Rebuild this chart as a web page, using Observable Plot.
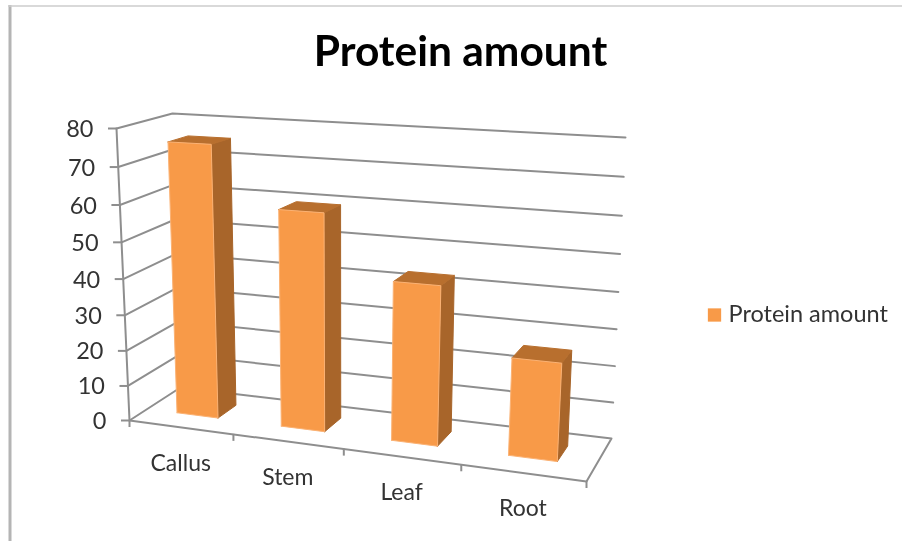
<!DOCTYPE html>
<html><head><meta charset="utf-8">
<style>html,body{margin:0;padding:0;background:#fff}svg{display:block;filter:blur(.45px)}</style>
<script src="https://cdn.jsdelivr.net/npm/d3@7"></script>
<script src="https://cdn.jsdelivr.net/npm/@observablehq/plot@0.6"></script>
</head><body><div id="chart"></div>
<script>
const categories = ["Callus", "Stem", "Leaf", "Root"];
const proteinAmount = [75.5, 59.5, 43, 26];
const valueTicks = [0, 10, 20, 30, 40, 50, 60, 70, 80];
const seriesName = "Protein amount";
const chartTitle = "Protein amount";

// Camera of the 3D chart: where the corners of the front and back planes fall on the page.
const frontPlane = [[129, 420], [586, 481], [605, 152], [116, 128]];
const backPlane = [[180, 387], [611, 438], [625, 137], [172, 113]];
function planeMap(q) {
  const [[x0, y0], [x1, y1], [x2, y2], [x3, y3]] = q;
  const dx1 = x1 - x2, dx2 = x3 - x2, sx = x0 - x1 + x2 - x3;
  const dy1 = y1 - y2, dy2 = y3 - y2, sy = y0 - y1 + y2 - y3;
  const D = dx1 * dy2 - dx2 * dy1;
  const g = (sx * dy2 - dx2 * sy) / D, h = (dx1 * sy - sx * dy1) / D;
  const a = x1 - x0 + g * x1, b = x3 - x0 + h * x3, d = y1 - y0 + g * y1, e = y3 - y0 + h * y3;
  return (s, t) => {
    const w = g * s + h * t + 1;
    return [(a * s + b * t + x0) / w, (d * s + e * t + y0) / w];
  };
}
const front = planeMap(frontPlane), back = planeMap(backPlane);
// u: category position (0..4), v: value (0..80), z: depth (0 front .. 1 back)
function project(u, v, z) {
  const f = front(u / categories.length, v / 80), b = back(u / categories.length, v / 80);
  return [f[0] + (b[0] - f[0]) * z, f[1] + (b[1] - f[1]) * z];
}
const barHalf = 0.2, barShift = -0.005, z0 = 0.35, z1 = 0.72;

function pathRows(key, pts) { return pts.map(([u, v, z], i) => ({key, i, p: project(u, v, z)})); }

const grid = valueTicks.flatMap(v => pathRows("g" + v, v === 0
  ? [[0, 0, 0], [0, 0, 1], [4, 0, 1], [4, 0, 0], [0, 0, 0]]
  : [[0, v, 0], [0, v, 1], [4, v, 1]]));
const yAxisLine = pathRows("axis", [[0, 0, 0], [0, 80, 0]]);
const faces = categories.flatMap((c, i) => {
  const a = i + 0.5 - barHalf + barShift, b = i + 0.5 + barHalf + barShift, v = proteinAmount[i];
  return [
    {face: "side", pts: [[b, 0, z0], [b, 0, z1], [b, v, z1], [b, v, z0]]},
    {face: "top", pts: [[a, v, z0], [b, v, z0], [b, v, z1], [a, v, z1]]},
    {face: "front", pts: [[a, 0, z0], [b, 0, z0], [b, v, z0], [a, v, z0]]}
  ].map(f => ({...f, key: c + f.face}));
});
const faceColor = {front: "#f89a48", side: "#a8652a", top: "#b86f2e"};
const faceMarks = faces.map(f => Plot.line(pathRows(f.key, [...f.pts, f.pts[0]]), {
  x: d => d.p[0], y: d => d.p[1],
  fill: faceColor[f.face], stroke: f.face === "front" ? "#fbb274" : faceColor[f.face], strokeWidth: 1
}));
const gridColor = "#8e8e8e";
const yTickRows = valueTicks.map(v => ({v, p: project(0, v, 0)}));
const xTickRows = d3.range(0, categories.length + 1).map(u => ({u, p: project(u, 0, 0)}));
const catRows = categories.map((c, i) => ({c, p: project(i + 0.5, 0, 0)}));

const font = "Lato, Carlito, 'Open Sans', sans-serif";
const chart = Plot.plot({
  width: 902, height: 543, margin: 0,
  x: {domain: [0, 902], range: [0, 902], axis: null},
  y: {domain: [0, 543], range: [0, 543], axis: null},
  style: {background: "#fff", fontFamily: font},
  marks: [
    Plot.ruleX([9.5], {y1: 5, y2: 541, stroke: "#b4b4b4", strokeWidth: 3}),
    Plot.ruleY([5.5], {x1: 8, x2: 902, stroke: "#cccccc", strokeWidth: 1.5}),
    Plot.line(grid, {x: d => d.p[0], y: d => d.p[1], z: "key", stroke: gridColor, strokeWidth: 2}),
    Plot.line(yAxisLine, {x: d => d.p[0], y: d => d.p[1], stroke: gridColor, strokeWidth: 2}),
    Plot.ruleY(yTickRows, {x1: d => d.p[0] - 8, x2: d => d.p[0], y: d => d.p[1], stroke: gridColor, strokeWidth: 2}),
    Plot.ruleX(xTickRows, {x: d => d.p[0], y1: d => d.p[1], y2: d => d.p[1] + 7, stroke: gridColor, strokeWidth: 2}),
    ...faceMarks,
    Plot.text(yTickRows, {x: d => d.p[0], y: d => d.p[1], text: d => String(d.v), dx: -23, dy: 1, textAnchor: "end", fontSize: 23.5, fill: "#333"}),
    Plot.text(catRows, {x: d => d.p[0], y: d => d.p[1], text: "c", dy: 36, fontSize: 23, fill: "#333"}),
    Plot.text([chartTitle], {x: [460], y: [52], text: d => d, fontSize: 42.5, fontWeight: 700, fill: "#000"}),
    Plot.dot([seriesName], {x: [714], y: [314.5], symbol: "square", r: 7.5, fill: "#f89a48"}),
    Plot.text([seriesName], {x: [728], y: [314], text: d => d, textAnchor: "start", fontSize: 23.5, fill: "#333"})
  ]
});
document.getElementById("chart").append(chart);
</script></body></html>
